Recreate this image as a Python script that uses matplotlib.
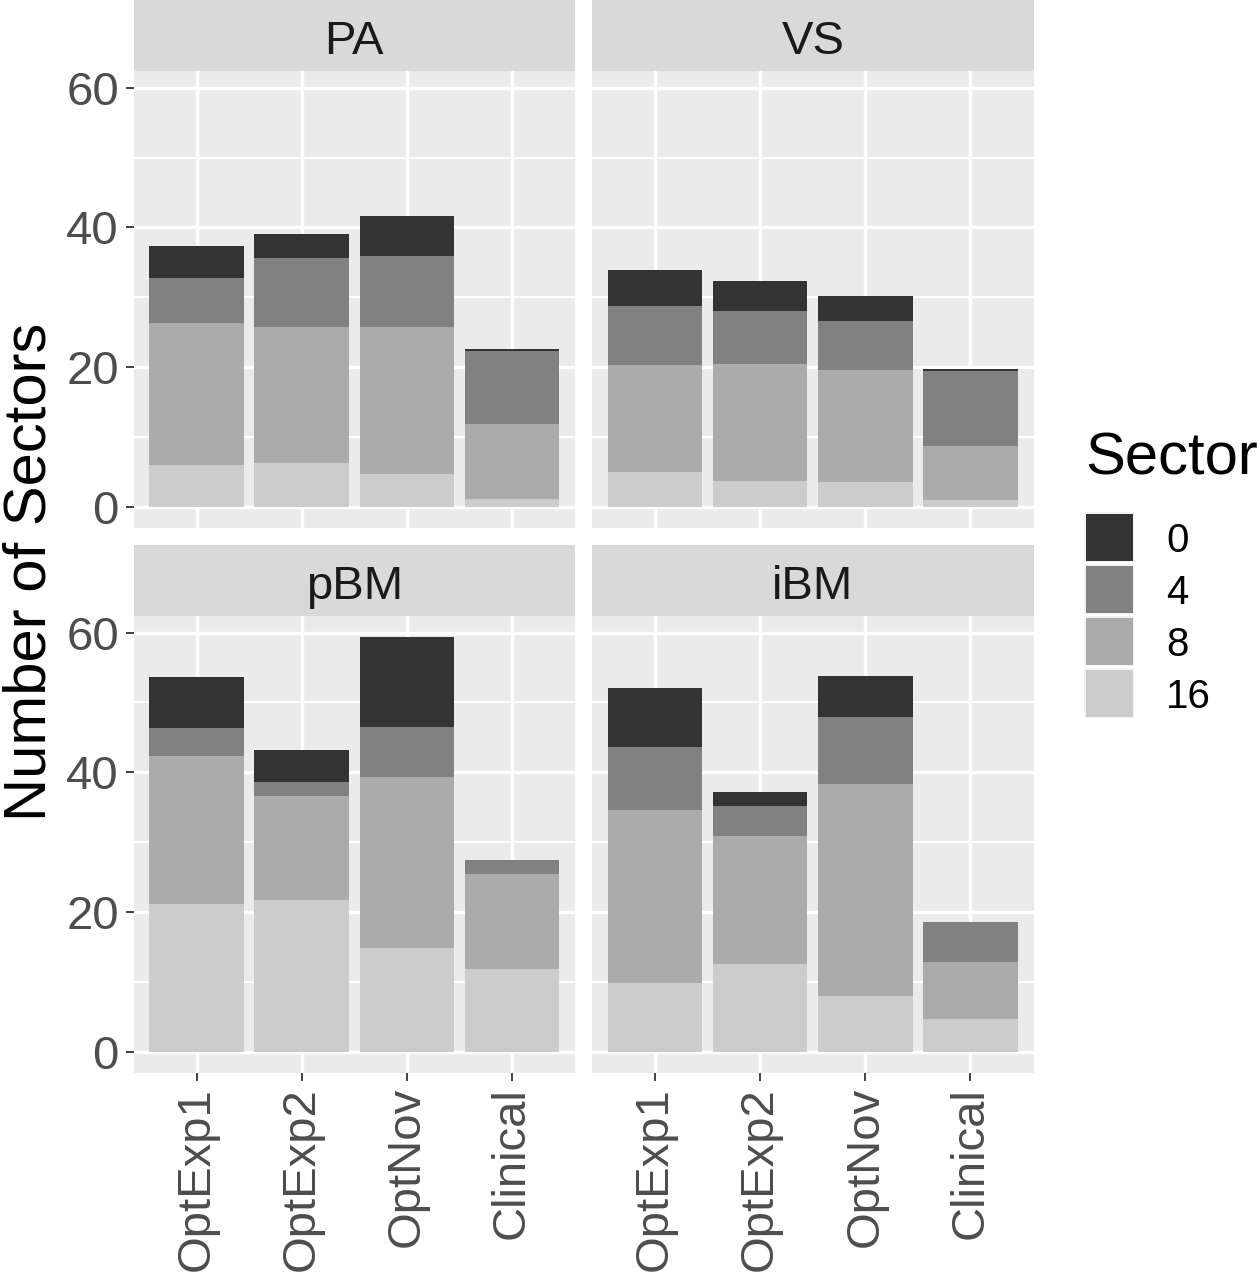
import matplotlib
matplotlib.use("Agg")
import matplotlib.pyplot as plt
from matplotlib.patches import Rectangle

plt.rcParams["font.family"] = ["Liberation Sans", "DejaVu Sans"]

# data
groups = ["OptExp1", "OptExp2", "OptNov", "Clinical"]
panels = ["PA", "VS", "pBM", "iBM"]
sectors = ["0", "4", "8", "16"]
yticks = [0, 20, 40, 60]

# segment heights per panel, in the order of groups
sector_16 = {"PA": [6.1, 6.3, 4.7, 1.2], "VS": [5.0, 3.8, 3.6, 1.1],
             "pBM": [21.1, 21.7, 14.9, 11.8], "iBM": [9.9, 12.5, 8.0, 4.7]}
sector_8 = {"PA": [20.3, 19.5, 21.0, 10.7], "VS": [15.3, 16.7, 16.0, 7.7],
            "pBM": [21.2, 14.9, 24.4, 13.6], "iBM": [24.7, 18.4, 30.3, 8.1]}
sector_4 = {"PA": [6.4, 9.9, 10.2, 10.5], "VS": [8.5, 7.5, 7.0, 10.7],
            "pBM": [4.0, 2.0, 7.2, 2.0], "iBM": [9.0, 4.3, 9.6, 5.8]}
sector_0 = {"PA": [4.6, 3.4, 5.7, 0.2], "VS": [5.1, 4.3, 3.6, 0.3],
            "pBM": [7.4, 4.6, 12.9, 0.0], "iBM": [8.5, 2.0, 5.9, 0.0]}

fills = {"0": "#333333", "4": "#818181", "8": "#ABABAB", "16": "#CCCCCC"}
stack = [("16", sector_16), ("8", sector_8), ("4", sector_4), ("0", sector_0)]

# shared y range, ggplot style 5% expansion
ymax = max(sum(s[p][i] for _, s in stack) for p in panels for i in range(len(groups)))
ylim = (-0.05 * ymax, 1.05 * ymax)

W, H = 1260, 1274
fig = plt.figure(figsize=(W / 100, H / 100), dpi=100)

col_x = [133.5, 592]
col_w = 441.5
row_y = [(71, 528), (616, 1072.5)]
strip_h = 71

tick_col = "#4D4D4D"
for k, p in enumerate(panels):
    r, c = divmod(k, 2)
    top, bot = row_y[r]
    ax = fig.add_axes([col_x[c] / W, 1 - bot / H, col_w / W, (bot - top) / H])
    ax.set_facecolor("#EBEBEB")
    for sp in ax.spines.values():
        sp.set_visible(False)

    x = list(range(len(groups)))
    bottom = [0.0] * len(groups)
    for name, src in stack:
        vals = src[p]
        ax.bar(x, vals, width=0.9, bottom=bottom, color=fills[name], linewidth=0, zorder=3)
        bottom = [b + v for b, v in zip(bottom, vals)]

    ax.set_xlim(-0.6, 3.6)
    ax.set_ylim(*ylim)
    ax.set_yticks(yticks)
    ax.set_yticks([10, 30, 50], minor=True)
    ax.set_xticks(x)
    ax.grid(True, which="major", color="white", linewidth=2.5, zorder=1)
    ax.grid(True, which="minor", axis="y", color="white", linewidth=1.5, zorder=1)
    ax.set_axisbelow(True)
    ax.tick_params(which="minor", length=0)
    ax.tick_params(which="major", length=5.5, width=1.3, color="#333333", pad=5,
                   labelsize=34, labelcolor=tick_col)

    if c == 0:
        ax.set_yticklabels([str(t) for t in yticks])
    else:
        ax.tick_params(axis="y", length=0, labelleft=False)
    if r == 1:
        ax.set_xticklabels(groups, rotation=90, va="top", ha="center")
    else:
        ax.tick_params(axis="x", length=0, labelbottom=False)

    # facet strip
    sax = fig.add_axes([col_x[c] / W, 1 - top / H, col_w / W, strip_h / H])
    sax.set_facecolor("#D9D9D9")
    sax.set_xticks([])
    sax.set_yticks([])
    for sp in sax.spines.values():
        sp.set_visible(False)
    sax.text(0.5, 17 / strip_h, p, ha="center", va="baseline", fontsize=34, color="#1A1A1A",
             transform=sax.transAxes)

fig.text(46 / W, 1 - 572 / H, "Number of Sectors", rotation=90, rotation_mode="anchor",
         ha="center", va="baseline", fontsize=43, color="black")

# legend, drawn by hand in figure pixels
fig.text(1085 / W, 1 - 475 / H, "Sector", ha="left", va="baseline", fontsize=43, color="black")
key_top = 511
key_size = 52
for i, s in enumerate(sectors):
    y0 = key_top + i * key_size
    fig.add_artist(Rectangle((1083 / W, 1 - (y0 + key_size) / H), key_size / W, key_size / H,
                             transform=fig.transFigure, facecolor="#F2F2F2",
                             edgecolor="white", linewidth=1.5))
    fig.add_artist(Rectangle((1085.5 / W, 1 - (y0 + key_size - 2.5) / H), 47 / W, 47 / H,
                             transform=fig.transFigure, facecolor=fills[s], linewidth=0))
    fig.text(1166 / W, 1 - (y0 + key_size / 2) / H, s, ha="left", va="center_baseline",
             fontsize=29, color="black")

fig.savefig("out.png", dpi=100)
